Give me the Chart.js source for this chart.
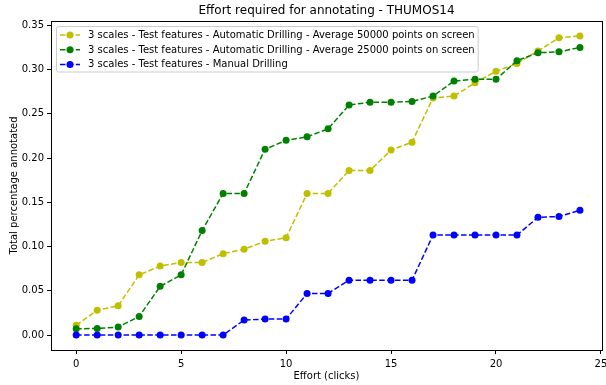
<!DOCTYPE html>
<html>
<head>
<meta charset="utf-8">
<script src="https://cdn.jsdelivr.net/npm/chart.js@4"></script>
<style>
  html, body { margin: 0; padding: 0; background: #fff; }
  #wrap { width: 606px; height: 385px; }
</style>
</head>
<body>
<div id="wrap"><canvas id="effortChart" width="606" height="385"></canvas></div>
<script>
// effort (clicks) on the x axis
const efforts = [0, 1, 2, 3, 4, 5, 6, 7, 8, 9, 10, 11, 12, 13, 14, 15, 16, 17, 18, 19, 20, 21, 22, 23, 24];

const autoDrill50k = [0.011, 0.028, 0.033, 0.068, 0.078, 0.082, 0.082, 0.092, 0.097, 0.106, 0.110, 0.160, 0.160,
                      0.186, 0.186, 0.209, 0.218, 0.268, 0.270, 0.285, 0.298, 0.307, 0.321, 0.336, 0.338];
const autoDrill25k = [0.007, 0.0075, 0.009, 0.021, 0.055, 0.068, 0.118, 0.160, 0.160, 0.210, 0.220, 0.224, 0.233,
                      0.260, 0.263, 0.263, 0.264, 0.270, 0.287, 0.289, 0.289, 0.310, 0.319, 0.320, 0.325];
const manualDrill  = [0, 0, 0, 0, 0, 0, 0, 0, 0.017, 0.018, 0.018, 0.047, 0.047,
                      0.062, 0.062, 0.062, 0.062, 0.113, 0.113, 0.113, 0.113, 0.113, 0.133, 0.134, 0.141];

const seriesLabels = [
  '3 scales - Test features - Automatic Drilling - Average 50000 points on screen',
  '3 scales - Test features - Automatic Drilling - Average 25000 points on screen',
  '3 scales - Test features - Manual Drilling'
];
const seriesColors = ['#bfbf00', '#008000', '#0000ff'];

const xTicks = [0, 5, 10, 15, 20, 25];
const yTicks = [0, 0.05, 0.10, 0.15, 0.20, 0.25, 0.30, 0.35];

const FONT = "'DejaVu Sans', sans-serif";
const DASH = [5.5, 2.4];

const toPoints = vals => efforts.map((x, i) => ({ x, y: vals[i] }));

function series(idx, vals) {
  return {
    label: seriesLabels[idx],
    data: toPoints(vals),
    borderColor: seriesColors[idx],
    backgroundColor: seriesColors[idx],
    pointBackgroundColor: seriesColors[idx],
    pointBorderWidth: 0,
    pointRadius: 3.5,
    borderWidth: 1.5,
    borderDash: DASH,
    fill: false,
    tension: 0,
    order: 3 - idx   // later series sit on top
  };
}

// full box around the plot, like matplotlib spines
const frame = {
  id: 'frame',
  afterDatasetsDraw(chart) {
    const { ctx, chartArea: a } = chart;
    ctx.save();
    ctx.strokeStyle = '#000';
    ctx.lineWidth = 1;
    const l = Math.round(a.left) + 0.5, r = Math.round(a.right) + 0.5;
    const t = Math.round(a.top) + 0.5, b = Math.round(a.bottom) + 0.5;
    ctx.strokeRect(l, t, r - l, b - t);
    ctx.restore();
  }
};

// legend box in the upper left corner of the plot
const innerLegend = {
  id: 'innerLegend',
  afterDraw(chart) {
    const { ctx, chartArea: a } = chart;
    const sets = chart.data.datasets;
    ctx.save();
    ctx.font = '10px ' + FONT;
    const textW = Math.max(...sets.map(d => ctx.measureText(d.label).width));
    const x0 = Math.round(a.left) + 5.5, y0 = Math.round(a.top) + 5.5;
    const w = 35 + textW, h = 45.5, rad = 2;

    ctx.beginPath();
    ctx.roundRect(x0, y0, w, h, rad);
    ctx.fillStyle = 'rgba(255,255,255,0.8)';
    ctx.fill();
    ctx.strokeStyle = '#cccccc';
    ctx.lineWidth = 1;
    ctx.stroke();

    sets.forEach((d, i) => {
      const y = y0 + 8.5 + i * 14.7;
      ctx.strokeStyle = d.borderColor;
      ctx.lineWidth = 1.5;
      ctx.setLineDash(DASH);
      ctx.beginPath();
      ctx.moveTo(x0 + 3.5, y);
      ctx.lineTo(x0 + 23.5, y);
      ctx.stroke();
      ctx.setLineDash([]);
      ctx.fillStyle = d.borderColor;
      ctx.beginPath();
      ctx.arc(x0 + 13.5, y, 3.5, 0, Math.PI * 2);
      ctx.fill();
      ctx.fillStyle = '#000';
      ctx.textBaseline = 'middle';
      ctx.textAlign = 'left';
      ctx.fillText(d.label, x0 + 31.5, y + 0.5);
    });
    ctx.restore();
  }
};

new Chart(document.getElementById('effortChart'), {
  type: 'line',
  data: {
    datasets: [
      series(0, autoDrill50k),
      series(1, autoDrill25k),
      series(2, manualDrill)
    ]
  },
  options: {
    responsive: false,
    animation: false,
    layout: { padding: { left: 0, right: 4, top: 0, bottom: 0 } },
    plugins: {
      legend: { display: false },
      tooltip: { enabled: false },
      title: {
        display: true,
        text: 'Effort required for annotating - THUMOS14',
        fullSize: false,
        color: '#000',
        font: { family: FONT, size: 12, weight: 'normal' },
        padding: { top: 4, bottom: 2.5 }
      }
    },
    scales: {
      x: {
        type: 'linear',
        min: -1.2,
        max: 25.05,
        afterBuildTicks: s => { s.ticks = xTicks.map(v => ({ value: v })); },
        afterFit: s => {
          s.height = 35;
          // let the "25" label hang past the plot edge instead of shrinking the plot
          s.paddingLeft = 0;
          s.paddingRight = 0;
        },
        border: { display: false },
        grid: { drawOnChartArea: false, drawTicks: true, tickLength: 4, color: '#000' },
        ticks: { color: '#000', padding: 4, maxRotation: 0, font: { family: FONT, size: 10 } },
        title: {
          display: true,
          text: 'Effort (clicks)',
          color: '#000',
          font: { family: FONT, size: 10 },
          padding: { top: 0, bottom: 3 }
        }
      },
      y: {
        min: -0.0169,
        max: 0.355,
        afterBuildTicks: s => { s.ticks = yTicks.map(v => ({ value: v })); },
        afterFit: s => { s.width = 51; },
        border: { display: false },
        grid: { drawOnChartArea: false, drawTicks: true, tickLength: 4, color: '#000' },
        ticks: {
          color: '#000',
          padding: 3,
          font: { family: FONT, size: 10 },
          callback: v => v.toFixed(2)
        },
        title: {
          display: true,
          text: 'Total percentage annotated',
          color: '#000',
          font: { family: FONT, size: 10 },
          padding: { top: 8, bottom: 0 }
        }
      }
    }
  },
  plugins: [frame, innerLegend]
});
</script>
</body>
</html>
